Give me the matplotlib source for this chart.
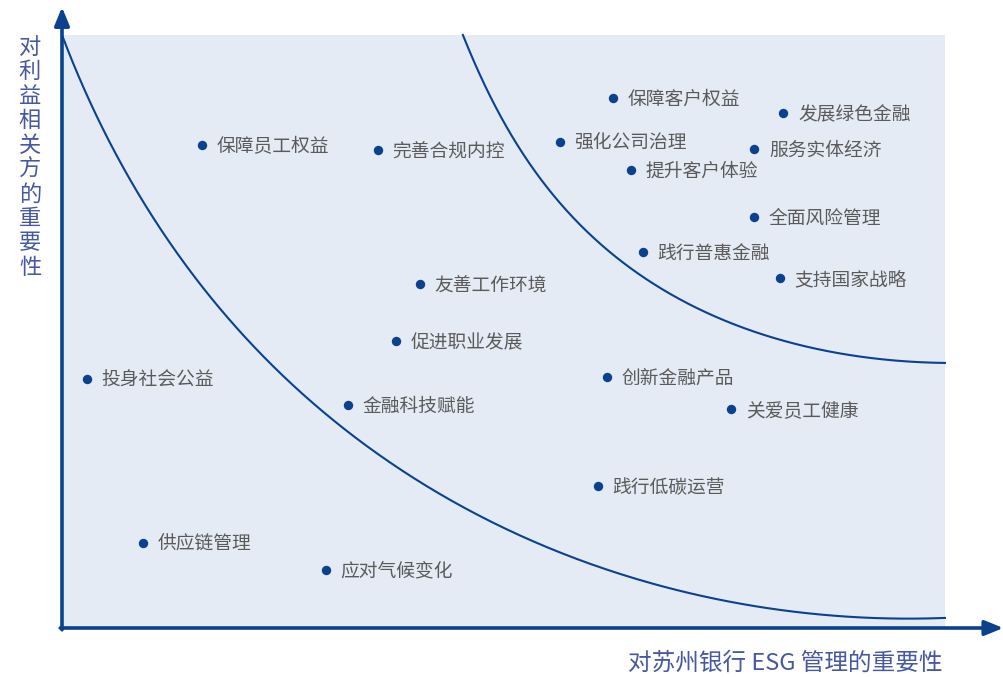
import matplotlib
matplotlib.use("Agg")
import matplotlib.pyplot as plt
import numpy as np

plt.rcParams['font.family'] = ['Noto Sans CJK SC', 'DejaVu Sans']

# ---- data (importance to bank on x, importance to stakeholders on y; 0-100) ----
labels = ["保障客户权益", "发展绿色金融", "保障员工权益", "完善合规内控", "强化公司治理",
          "服务实体经济", "提升客户体验", "全面风险管理", "践行普惠金融", "支持国家战略",
          "友善工作环境", "促进职业发展", "投身社会公益", "创新金融产品", "金融科技赋能",
          "关爱员工健康", "践行低碳运营", "供应链管理", "应对气候变化"]
x_vals = [62.4, 81.7, 15.9, 35.8, 56.4, 78.4, 64.4, 78.4, 65.8, 81.3,
          40.5, 37.8, 2.8, 61.7, 32.4, 75.8, 60.7, 9.2, 29.9]
y_vals = [89.4, 86.8, 81.5, 80.6, 82.0, 80.8, 77.2, 69.3, 63.4, 59.0,
          58.0, 48.4, 42.0, 42.3, 37.6, 36.9, 23.9, 14.3, 9.8]

# boundary curve anchors (same 0-100 scale)
inner_x = [0, 3.5, 7.4, 11.1, 14.8, 19.9, 27.0, 32.6, 38.3, 43.9, 51.5, 59.0, 66.6, 74.2, 81.7, 89.2, 100]
inner_y = [100, 87.9, 76.7, 67.1, 59.2, 50.6, 40.1, 32.9, 26.6, 21.6, 16.0, 11.1, 7.6, 4.9, 2.9, 2.0, 1.7]
outer_x = [45.4, 47.7, 51.5, 55.3, 59.0, 62.9, 66.6, 70.3, 77.9, 89.2, 93.0, 100]
outer_y = [100, 92.4, 81.1, 73.9, 67.6, 62.6, 58.2, 54.8, 50.6, 46.0, 45.2, 44.7]

x_title = "对苏州银行 ESG 管理的重要性"
y_title = "对利益相关方的重要性"

AXIS_C = "#0b418f"
BG_C = "#e4ebf4"
TXT_C = "#5a5a5a"
TITLE_C = "#4658a0"

fig = plt.figure(figsize=(10.04, 6.77), dpi=100)
W, H = 1004, 677
ax = fig.add_axes([62 / W, (H - 628) / H, 883 / W, 593 / H])
ax.set_xlim(0, 100)
ax.set_ylim(0, 100)
ax.set_facecolor(BG_C)
for s in ax.spines.values():
    s.set_visible(False)
ax.set_xticks([])
ax.set_yticks([])


def smooth_curve(xs, ys, deg=5):
    xs = np.asarray(xs, float)
    ys = np.asarray(ys, float)
    seg = np.hypot(np.diff(xs), np.diff(ys))
    t = np.concatenate([[0], np.cumsum(seg)])
    t /= t[-1]
    w = np.ones_like(t)
    w[0] = w[-1] = 20
    px = np.polyfit(t, xs, deg, w=w)
    py = np.polyfit(t, ys, deg, w=w)
    tt = np.linspace(0, 1, 400)
    return np.polyval(px, tt), np.polyval(py, tt)


for cx, cy in [(inner_x, inner_y), (outer_x, outer_y)]:
    sx, sy = smooth_curve(cx, cy)
    ax.plot(sx, sy, color=AXIS_C, lw=1.5, zorder=2, clip_on=False)

ax.scatter(x_vals, y_vals, s=46, color=AXIS_C, zorder=3, linewidths=0)
for lx, ly, t in zip(x_vals, y_vals, labels):
    ax.annotate(t, (lx, ly), xytext=(10.5, -1), textcoords='offset points',
                ha='left', va='center', fontsize=13.5, color=TXT_C, zorder=4)

# axis arrows
arrow_kw = dict(arrowstyle='-|>,head_length=1.1,head_width=0.45', color=AXIS_C,
                lw=2.6, shrinkA=0, shrinkB=0)
ax.annotate('', xy=(0, 1.047), xytext=(0, -0.003), xycoords='axes fraction',
            arrowprops=arrow_kw, annotation_clip=False)
ax.annotate('', xy=(1.066, 0), xytext=(-0.002, 0), xycoords='axes fraction',
            arrowprops=arrow_kw, annotation_clip=False)

fig.text(30 / W, 1 - 36 / H, "\n".join(y_title), ha='center', va='top',
         fontsize=16, color=TITLE_C, linespacing=1.08)
fig.text(942 / W, 1 - 663 / H, x_title, ha='right', va='center',
         fontsize=17, color=TITLE_C)

fig.savefig("out.png", dpi=100)
